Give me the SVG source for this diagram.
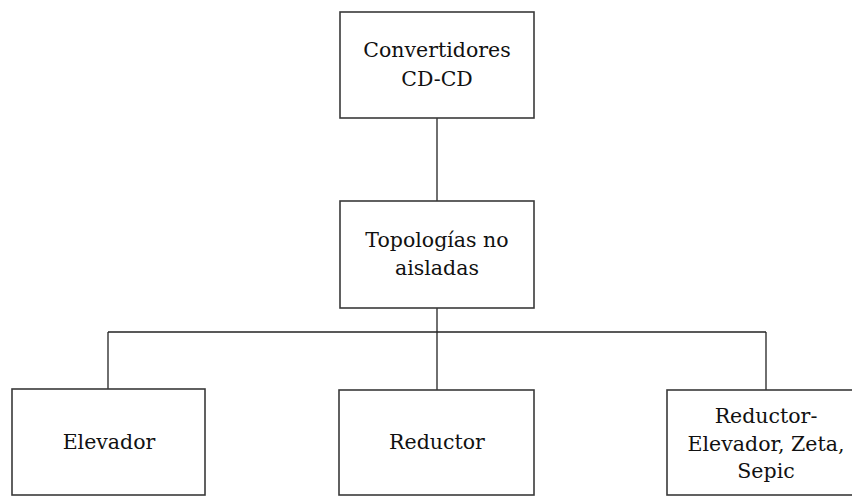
<svg xmlns="http://www.w3.org/2000/svg" width="852" height="496" viewBox="0 0 852 496">
<style>
.box{fill:#fff;stroke:#3a3a3a;stroke-width:1.6}
.conn{fill:none;stroke:#222;stroke-width:1.3}
text{font-family:"DejaVu Serif","Liberation Serif",serif;font-size:20.5px;fill:#111;text-anchor:middle}
</style>
<rect width="852" height="496" fill="#fff"/>
<g id="connectors">
<line class="conn" x1="437" y1="118" x2="437" y2="201"/>
<line class="conn" x1="437" y1="308" x2="437" y2="390"/>
<line class="conn" x1="108" y1="332" x2="766" y2="332"/>
<line class="conn" x1="108" y1="332" x2="108" y2="389"/>
<line class="conn" x1="766" y1="332" x2="766" y2="390"/>
</g>
<g id="n-convertidores">
<rect class="box" x="340" y="12" width="194" height="106"/>
<text x="437" y="57">Convertidores</text>
<text x="437" y="86">CD-CD</text>
</g>
<g id="n-topologias">
<rect class="box" x="340" y="201" width="194" height="107"/>
<text x="437" y="247">Topologías no</text>
<text x="437" y="275">aisladas</text>
</g>
<g id="n-elevador">
<rect class="box" x="12" y="389" width="193" height="106"/>
<text x="109" y="449">Elevador</text>
</g>
<g id="n-reductor">
<rect class="box" x="339" y="390" width="195" height="105"/>
<text x="437" y="449">Reductor</text>
</g>
<g id="n-reductor-elevador">
<rect class="box" x="667" y="390" width="198" height="105"/>
<text x="766" y="423">Reductor-</text>
<text x="766" y="451">Elevador, Zeta,</text>
<text x="766" y="478">Sepic</text>
</g>
</svg>
